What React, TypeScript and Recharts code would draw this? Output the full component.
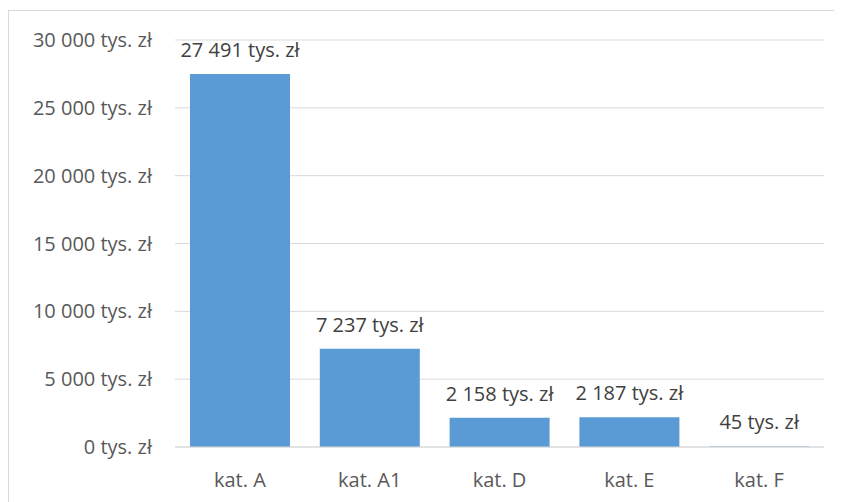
import { Bar, BarChart, CartesianGrid, LabelList, XAxis, YAxis } from "recharts";

const categories = ["kat. A", "kat. A1", "kat. D", "kat. E", "kat. F"];
const values = [27491, 7237, 2158, 2187, 45];
const yTicks = [0, 5000, 10000, 15000, 20000, 25000, 30000];

const BAR_COLOR = "#5b9bd5";
const GRID_COLOR = "#d9d9d9";
const FONT = "'Open Sans', 'Noto Sans', sans-serif";

const data = categories.map((name, i) => ({ name, value: values[i] }));

// "27491" -> "27 491 tys. zł"
function formatTys(v: number) {
    const s = String(Math.round(v)).replace(/\B(?=(\d{3})+(?!\d))/g, " ");
    return `${s} tys. zł`;
}

export default function App() {
    return (
        <div
            style={{
                marginTop: 2,
                width: 832,
                height: 500,
                border: `1px solid ${GRID_COLOR}`,
                background: "#fff",
                fontFamily: FONT,
            }}
        >
            <BarChart
                width={832}
                height={490}
                data={data}
                margin={{ top: 29, right: 17, bottom: 24, left: 0 }}
            >
                <CartesianGrid vertical={false} stroke={GRID_COLOR} strokeWidth={1} />
                <XAxis
                    dataKey="name"
                    height={30}
                    tickLine={false}
                    tickSize={0}
                    tickMargin={26}
                    axisLine={{ stroke: GRID_COLOR }}
                    tick={{ fontSize: 20, fill: "#595959", fontFamily: FONT }}
                />
                <YAxis
                    width={166}
                    domain={[0, 30000]}
                    ticks={yTicks}
                    interval={0}
                    axisLine={false}
                    tickLine={false}
                    tickSize={0}
                    tickMargin={23}
                    tickFormatter={formatTys}
                    tick={{ fontSize: 20, fill: "#595959", fontFamily: FONT }}
                />
                <Bar dataKey="value" fill={BAR_COLOR} barSize={100} isAnimationActive={false}>
                    <LabelList
                        dataKey="value"
                        position="top"
                        offset={17}
                        formatter={(v: number) => formatTys(v)}
                        style={{ fontSize: 20, fill: "#404040", fontFamily: FONT }}
                    />
                </Bar>
            </BarChart>
        </div>
    );
}
